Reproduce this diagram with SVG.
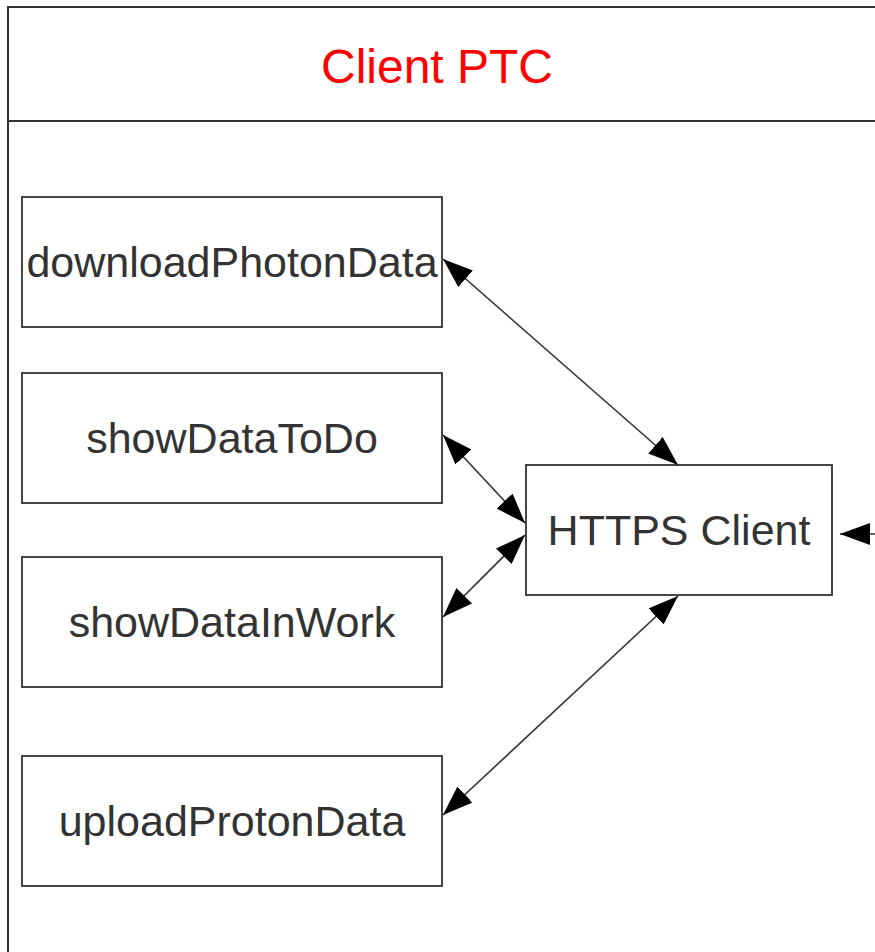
<svg xmlns="http://www.w3.org/2000/svg" width="875" height="952" viewBox="0 0 875 952">
<style>
.frame{fill:#fff;stroke:#333;stroke-width:2}
.box{fill:#fff;stroke:#333;stroke-width:1.8}
.lbl{font-family:"Liberation Sans",Arial,sans-serif;font-size:43px;fill:#333;text-anchor:middle}
.title{font-family:"Liberation Sans",Arial,sans-serif;font-size:48px;fill:#ff0000;text-anchor:middle}
.conn{stroke:#333;stroke-width:1.6;fill:none;marker-start:url(#ah);marker-end:url(#ah)}
</style>
<defs>
<marker id="ah" viewBox="0 0 30 22" refX="30" refY="11" markerWidth="30" markerHeight="22" markerUnits="userSpaceOnUse" orient="auto-start-reverse">
<path d="M0,0 L30,11 L0,22 z" fill="#000"/>
</marker>
</defs>
<rect width="875" height="952" fill="#fff"/>
<g id="container">
<rect class="frame" x="8" y="7" width="900" height="980"/>
<line x1="8" y1="121" x2="875" y2="121" stroke="#333" stroke-width="2"/>
<text class="title" x="437" y="83">Client PTC</text>
</g>
<g id="downloadPhotonData">
<rect class="box" x="22" y="197" width="420" height="130"/>
<text class="lbl" x="232" y="277">downloadPhotonData</text>
</g>
<g id="showDataToDo">
<rect class="box" x="22" y="373" width="420" height="130"/>
<text class="lbl" x="232" y="453">showDataToDo</text>
</g>
<g id="showDataInWork">
<rect class="box" x="22" y="557" width="420" height="130"/>
<text class="lbl" x="232" y="637">showDataInWork</text>
</g>
<g id="uploadProtonData">
<rect class="box" x="22" y="756" width="420" height="130"/>
<text class="lbl" x="232" y="836">uploadProtonData</text>
</g>
<g id="httpsClient">
<rect class="box" x="526" y="465" width="306" height="130"/>
<text class="lbl" x="679" y="545">HTTPS Client</text>
</g>
<g id="connectors">
<line class="conn" x1="443" y1="259" x2="678" y2="465"/>
<line class="conn" x1="443" y1="435" x2="525" y2="523"/>
<line class="conn" x1="443" y1="617" x2="525" y2="535"/>
<line class="conn" x1="443" y1="815" x2="678" y2="596"/>
<line x1="900" y1="534" x2="840" y2="534" stroke="#333" stroke-width="1.6" marker-end="url(#ah)"/>
</g>
</svg>
